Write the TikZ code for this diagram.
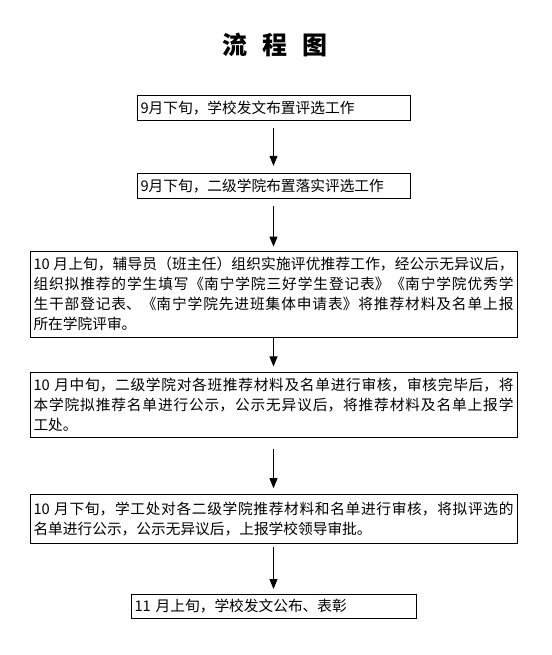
\documentclass[tikz,border=0pt]{standalone}
\usepackage{fontspec}
\setmainfont{Noto Sans CJK SC}
\XeTeXlinebreaklocale "zh"
\XeTeXlinebreakskip=0pt plus 1pt
\usepackage{tikz}
\usetikzlibrary{positioning, arrows.meta}

\begin{document}
\begin{tikzpicture}[every node/.style={inner xsep=3.5pt, inner ysep=2pt},
  stage/.style={draw, line width=0.8pt, anchor=north,
    font=\fontsize{14.7}{20}\selectfont},
  shortstage/.style={stage, align=left, minimum height=25pt},
  longstage/.style={stage, align=justify, text width=480pt},
  flow/.style={-{Triangle[length=10pt, width=8pt]}, line width=0.8pt}]
\useasboundingbox (0,0) rectangle (551pt,-655pt);
\node[font=\fontsize{25}{25}\selectfont\bfseries] (T) at (275pt,-45pt)
  {流\hspace{0.6em}程\hspace{0.6em}图};
\node[shortstage, text width=266pt] (S1) at (273.5pt,-95pt)
  {9月下旬，学校发文布置评选工作};
\node[shortstage, text width=266pt, below=52pt of S1] (S2)
  {9月下旬，二级学院布置落实评选工作};
\node[longstage, minimum height=86pt, below=52pt of S2] (S3)
  {10 月上旬，辅导员（班主任）组织实施评优推荐工作，经公示无异议后，\linebreak
   组织拟推荐的学生填写《南宁学院三好学生登记表》《南宁学院优秀学\linebreak
   生干部登记表、《南宁学院先进班集体申请表》将推荐材料及名单上报\linebreak
   所在学院评审。};
\node[longstage, minimum height=65pt, below=35pt of S3] (S4)
  {10 月中旬，二级学院对各班推荐材料及名单进行审核，审核完毕后，将\linebreak
   本学院拟推荐名单进行公示，公示无异议后，将推荐材料及名单上报学\linebreak
   工处。};
\node[longstage, minimum height=49pt, below=56pt of S4] (S5)
  {10 月下旬，学工处对各二级学院推荐材料和名单进行审核，将拟评选的\linebreak
   名单进行公示，公示无异议后，上报学校领导审批。};
\node[shortstage, text width=278pt, minimum height=24pt, below=50pt of S5] (S6)
  {11 月上旬，学校发文公布、表彰};
\draw[flow, shorten <=7pt, shorten >=7pt] (S1) -- (S2);
\draw[flow, shorten <=7pt, shorten >=4pt] (S2) -- (S3);
\draw[flow, shorten >=6pt] (S3) -- (S4);
\draw[flow, shorten <=11pt, shorten >=6pt] (S4) -- (S5);
\draw[flow, shorten <=3pt, shorten >=5pt] (S5) -- (S6);
\end{tikzpicture}
\end{document}
